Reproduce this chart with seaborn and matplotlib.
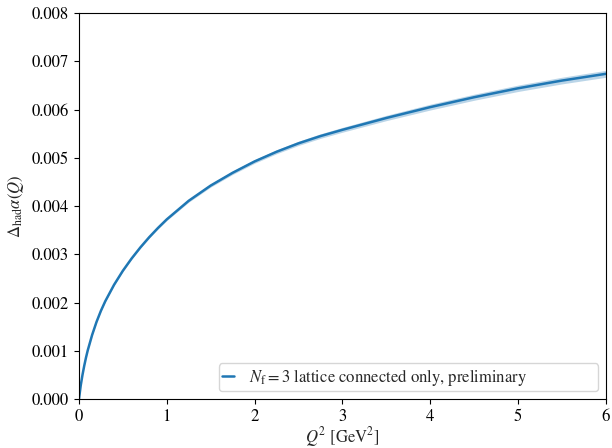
import matplotlib
matplotlib.use("Agg")
import matplotlib.pyplot as plt
import seaborn as sns
import numpy as np
import pandas as pd
from matplotlib.ticker import FormatStrFormatter

# Data (Q^2 in GeV^2, values in units of 1e-3)
q2 = [0, 0.02, 0.04, 0.06, 0.08, 0.10, 0.15, 0.20, 0.25, 0.30, 0.40, 0.50,
      0.60, 0.70, 0.80, 0.90, 1.0, 1.25, 1.5, 1.75, 2.0, 2.25, 2.5, 2.75, 3.0,
      3.5, 4.0, 4.5, 5.0, 5.5, 6.0]
alpha_e3 = [0, 0.28, 0.50, 0.69, 0.86, 1.01, 1.33, 1.60, 1.83, 2.03, 2.37, 2.66,
            2.915, 3.145, 3.355, 3.547, 3.725, 4.11, 4.425, 4.69, 4.925, 5.125, 5.30, 5.45, 5.58,
            5.825, 6.05, 6.255, 6.44, 6.60, 6.74]
err_e3 = [0, 0.001, 0.002, 0.003, 0.004, 0.005, 0.006, 0.007, 0.008, 0.010, 0.012, 0.014,
          0.016, 0.018, 0.020, 0.022, 0.025, 0.029, 0.032, 0.035, 0.038, 0.041, 0.044, 0.047, 0.050,
          0.055, 0.060, 0.063, 0.066, 0.069, 0.072]
label = r"$N_{\rm f}=3$ lattice connected only, preliminary"

df = pd.DataFrame({"q2": q2,
                   "val": np.array(alpha_e3) * 1e-3,
                   "err": np.array(err_e3) * 1e-3})

sns.set_style("ticks")
plt.rcParams.update({
    "font.family": ["STIXGeneral", "DejaVu Serif"],
    "mathtext.fontset": "stix",
    "font.size": 12,
    "axes.edgecolor": "black",
    "axes.linewidth": 0.8,
    "xtick.color": "black",
    "ytick.color": "black",
    "xtick.direction": "out",
    "ytick.direction": "out",
    "xtick.major.size": 3.5,
    "ytick.major.size": 3.5,
})

fig, ax = plt.subplots(figsize=(6.12, 4.48), dpi=100)
fig.subplots_adjust(left=0.129, right=0.990, top=0.971, bottom=0.109)

color = "#1f77b4"
ax.fill_between(df["q2"], df["val"] - df["err"], df["val"] + df["err"],
                color=color, alpha=0.3, linewidth=0)
sns.lineplot(data=df, x="q2", y="val", ax=ax, color=color, linewidth=1.8, label=label)

ax.set_xlim(0, 6)
ax.set_ylim(0, 0.008)
ax.set_xticks([0, 1, 2, 3, 4, 5, 6])
ax.set_yticks(np.arange(0, 0.0081, 0.001))
ax.yaxis.set_major_formatter(FormatStrFormatter("%.3f"))
ax.set_xlabel(r"$Q^2$ [GeV$^2$]", labelpad=0)
ax.set_ylabel(r"$\mathit{\Delta}_{\rm had}\alpha(Q)$", labelpad=4)
for s in ax.spines.values():
    s.set_visible(True)

ax.legend(loc="lower left", bbox_to_anchor=(0.266, 0.021, 0.719, 0.06),
          mode="expand", borderaxespad=0, handlelength=0.7, handletextpad=0.9,
          borderpad=0.2, frameon=True, fontsize=12)

fig.savefig("out.png", dpi=100)
